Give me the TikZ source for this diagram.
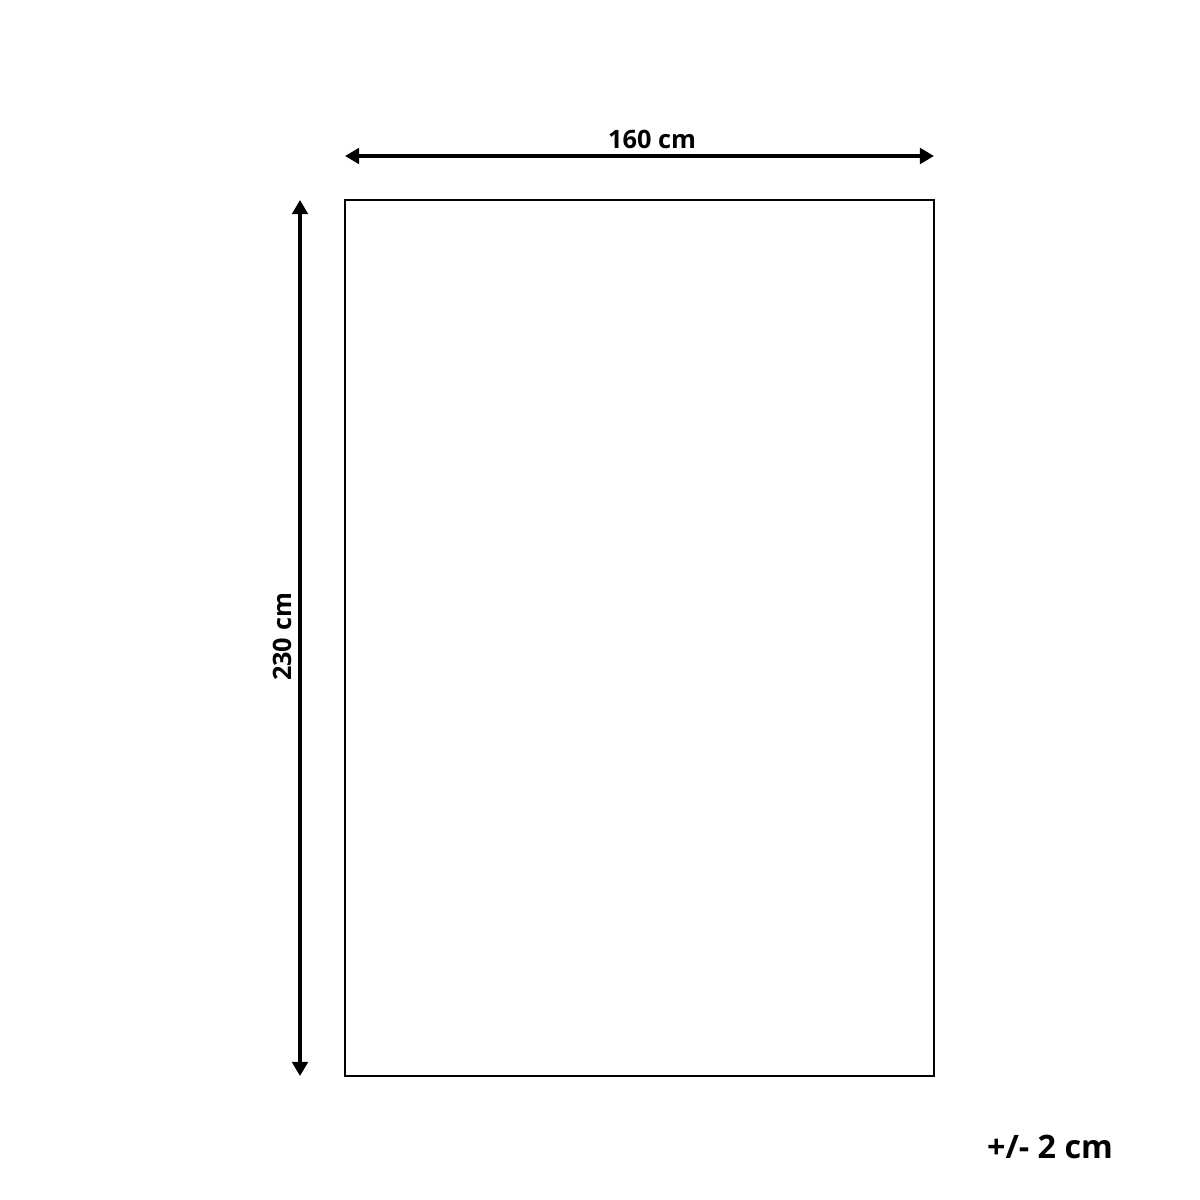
\documentclass[tikz,border=0pt]{standalone}
\usepackage{fontspec}
\setmainfont{Open Sans}
\usetikzlibrary{arrows.meta}

\begin{document}
\begin{tikzpicture}[x=0.01cm,y=-0.01cm,
  dimline/.style={line width=1.1pt,{Triangle[length=4pt,width=4.4pt]}-{Triangle[length=4pt,width=4.4pt]}},
  dimlabel/.style={font=\bfseries\fontsize{7.2}{8}\selectfont,inner sep=0pt}]

  % Fix the page to the reference size
  \useasboundingbox (0,0) rectangle (1200,1200);

  % Define the corners of the rug
  \coordinate (TL) at (345,200);
  \coordinate (BR) at (934,1076);

  % Draw the rug outline
  \draw[line width=0.45pt] (TL) rectangle (BR);

  % Define the ends of the dimension lines
  \coordinate (W1) at (345,156);
  \coordinate (W2) at (934,156);
  \coordinate (H1) at (300,200);
  \coordinate (H2) at (300,1076);

  % Draw the dimension lines
  \draw[dimline] (W1) -- (W2);
  \draw[dimline] (H1) -- (H2);

  % Add the labels
  \node[dimlabel] (width) at (652,139) {160 cm};
  \node[dimlabel,rotate=90] (height) at (282,637) {230 cm};
  \node[dimlabel,font=\bfseries\fontsize{9.2}{10}\selectfont,anchor=base] (tol) at (1050,1158) {+/- 2 cm};

\end{tikzpicture}
\end{document}
